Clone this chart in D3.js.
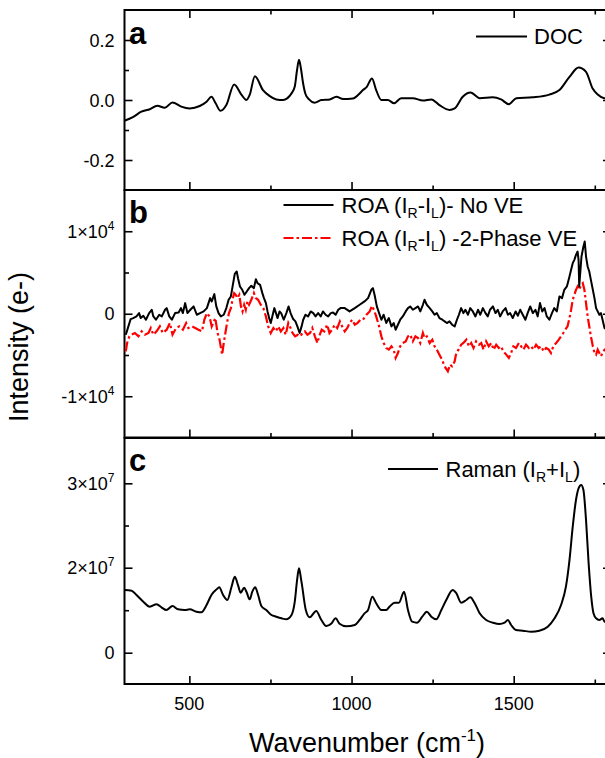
<!DOCTYPE html>
<html><head><meta charset="utf-8">
<script src="https://cdn.jsdelivr.net/npm/d3@7"></script>
<style>
body{margin:0;background:#fff}
text{font-family:"Liberation Sans",Arial,sans-serif;fill:#000}
</style>
</head><body>
<svg id="chart" width="605" height="758"></svg>
<script>
// ---------- DATA ----------
const xTicks = [500, 1000, 1500];
const xMinor = [750, 1250, 1750];

const aTicks = [-0.2, 0, 0.2];
const aLabels = [["-0.2",""],["0.0",""],["0.2",""]];
const aMinor = [-0.1, 0.1];

const bTicks = [-1e4, 0, 1e4];
const bLabels = [["-1×10","4"],["0",""],["1×10","4"]];
const bMinor = [-5000, 5000];

const cTicks = [0, 2e7, 3e7];
const cLabels = [["0",""],["2×10","7"],["3×10","7"]];
const cMinor = [1e7, 2.5e7];

// panel a: DOC
const docW = [300,326,352,378,401,424,448,475,501,532,553,568,581,596,614,638,661,676,686,702,727,748,768,789,815,825,832,838,844,850,858,869,886,907,933,953,974,1004,1025,1035,1047,1063,1076,1092,1112,1131,1153,1189,1220,1246,1271,1302,1318,1343,1367,1395,1435,1461,1485,1508,1559,1610,1641,1672,1700,1723,1743,1759,1779,1800];
const docV = [-0.069,-0.057,-0.039,-0.031,-0.019,-0.026,-0.008,-0.022,-0.028,-0.020,-0.006,0.011,-0.011,-0.036,-0.017,0.052,0.017,0.0,0.017,0.079,0.033,0.013,0.002,0.0,0.022,0.045,0.100,0.134,0.105,0.060,0.020,0.002,-0.009,0.0,0.002,0.011,0.003,0.005,0.022,0.033,0.044,0.072,0.033,0.0,0.0,-0.011,0.006,0.006,-0.002,0.002,-0.017,-0.033,-0.028,0.011,0.025,0.006,0.009,0.002,-0.014,0.006,0.009,0.018,0.033,0.077,0.108,0.094,0.039,0.018,0.006,0.005];

// panel b: ROA, no VE
const roaW = [304,312,319,327,337,345,350,358,366,376,384,389,397,407,415,425,430,438,446,456,467,474,480,487,494,503,513,523,533,544,554,564,569,577,583,590,597,606,614,621,628,635,640,646,650,656,663,670,677,684,691,699,705,710,718,725,730,736,741,746,751,757,762,767,772,778,783,791,799,806,812,820,827,833,840,846,851,858,866,874,882,889,897,905,912,920,928,936,943,951,959,966,979,994,1010,1025,1040,1051,1061,1066,1071,1078,1085,1092,1099,1107,1115,1123,1130,1136,1143,1150,1158,1167,1174,1181,1189,1197,1205,1212,1220,1225,1232,1241,1249,1256,1263,1271,1280,1287,1294,1302,1310,1318,1325,1331,1338,1345,1351,1359,1366,1374,1382,1390,1397,1405,1413,1420,1427,1436,1444,1451,1458,1466,1475,1482,1489,1497,1506,1513,1520,1528,1536,1543,1551,1559,1567,1574,1581,1588,1595,1602,1610,1618,1625,1633,1641,1649,1656,1664,1672,1677,1682,1687,1692,1697,1700,1702,1709,1715,1719,1723,1728,1733,1738,1744,1749,1754,1759,1764,1769,1774,1780,1790];
const roaNoVE = [-2540,-1530,-645,-524,-323,80,-524,-242,-726,80,484,-323,-726,-121,-323,484,685,-323,-726,80,160,685,80,1290,80,484,887,-121,80,282,685,1895,1492,2380,887,80,-323,-121,685,1694,2097,3710,4839,5121,4315,3307,2903,2298,2702,3105,3387,3105,4194,3710,3508,2500,1895,1290,282,-524,-1129,-121,685,80,-524,282,80,-726,80,887,80,-645,-927,-1532,-2339,-1532,-726,-121,-323,282,80,-323,80,-323,282,-121,-323,80,160,-121,484,685,685,282,685,1089,1492,1895,2903,3105,2298,887,80,-726,-121,-1129,-524,-1532,-1129,-1935,-1331,-726,-323,282,685,887,484,685,887,282,1089,1694,1089,685,282,-121,80,-524,-726,-927,-1129,-927,-1331,-1532,-726,-121,685,80,484,-121,685,282,-323,484,-121,685,80,-323,484,887,80,484,-323,282,685,-121,80,-524,282,-242,484,-121,-726,80,887,80,484,-323,1290,282,685,-323,-726,80,685,282,2097,1895,2903,3307,4516,5323,6129,6532,7137,7540,6532,3307,6935,8145,8750,6935,5726,5121,4113,2903,1895,685,282,-121,80,-726,-1734,-2000];

// panel b: ROA, 2-phase VE
const roa2W = [304,308,315,322,332,343,353,363,374,381,389,399,409,418,430,440,448,459,469,480,490,497,508,518,528,539,546,554,562,569,580,587,593,601,606,611,617,622,628,633,638,643,648,654,659,664,669,674,679,684,691,699,705,712,720,728,736,743,751,759,767,774,782,790,797,805,812,818,826,834,842,849,856,864,872,879,887,895,900,908,916,925,932,940,948,956,964,971,979,987,994,1002,1010,1018,1028,1035,1046,1056,1063,1069,1076,1085,1092,1099,1107,1115,1123,1130,1136,1143,1150,1158,1167,1174,1181,1189,1197,1205,1212,1220,1225,1232,1241,1249,1256,1263,1271,1279,1285,1290,1297,1304,1310,1318,1323,1330,1338,1345,1354,1362,1369,1376,1384,1393,1400,1407,1415,1423,1431,1438,1446,1454,1461,1468,1477,1485,1492,1499,1507,1516,1523,1530,1538,1547,1554,1561,1569,1577,1585,1592,1600,1608,1615,1622,1631,1639,1646,1653,1659,1666,1672,1677,1682,1687,1692,1697,1702,1708,1713,1718,1723,1728,1733,1738,1744,1749,1754,1759,1764,1769,1774,1780,1790];
const roa2PhaseVE = [-4554,-3546,-2740,-2540,-2337,-2740,-2136,-2540,-2337,-1733,-2540,-2136,-1531,-2337,-1934,-1128,-2540,-1733,-1531,-1934,-1128,-1733,-1531,-1733,-1934,-2136,-725,80,-322,-1531,-524,-2337,-3143,-4957,-3546,-2337,-927,80,685,1692,2499,2297,1894,2297,886,282,1088,484,1491,1088,1692,2499,1894,1692,1088,685,-322,-1531,-2337,-1733,-2136,-1531,-2136,-1733,-2540,-1128,-1733,-2337,-2740,-2540,-2740,-2337,-2136,-2540,-2337,-1733,-2740,-3546,-2740,-1934,-2136,-1329,-2337,-1934,-1329,-1733,-927,-1531,-2136,-1733,-1128,-725,-1329,-1128,-725,-725,-121,282,967,484,-322,-1531,-2740,-3546,-4151,-4352,-3949,-4352,-5360,-4755,-3949,-3546,-3345,-2740,-2540,-3345,-2740,-2942,-3546,-2337,-2942,-2740,-3546,-3143,-3949,-4352,-4957,-5561,-6166,-6569,-6972,-6166,-6368,-5763,-4755,-4352,-3748,-3546,-3143,-3949,-3546,-4151,-3345,-3748,-3546,-4352,-3345,-3949,-3546,-4352,-3748,-4151,-3949,-4553,-4957,-5360,-4755,-3949,-4151,-3546,-3949,-4352,-3748,-4151,-3949,-4352,-3748,-4151,-3949,-4553,-4151,-4352,-4755,-3949,-3546,-3143,-2740,-2337,-1934,-1531,-524,484,1692,2297,2902,3305,2902,3507,3708,2902,1290,-322,-1531,-2740,-3949,-4755,-4957,-4352,-4755,-5158,-4755,-4352,-4200];

// panel c: Raman
const ramanW = [300,322,337,358,378,399,414,429,448,465,486,501,522,537,553,568,584,592,604,617,630,640,650,658,669,676,686,694,703,712,722,737,753,768,784,799,815,825,832,838,844,848,859,871,891,907,922,938,951,963,984,1010,1025,1040,1051,1064,1076,1092,1107,1117,1133,1146,1162,1174,1187,1202,1218,1232,1246,1261,1277,1292,1312,1323,1338,1354,1366,1379,1395,1415,1436,1456,1472,1482,1492,1507,1528,1554,1579,1605,1626,1646,1661,1672,1682,1692,1700,1708,1715,1723,1731,1739,1746,1754,1764,1774,1780,1800];
const ramanV = [1.475e7,1.46e7,1.358e7,1.2e7,1.082e7,1.14e7,1.068e7,1.005e7,1.099e7,1.02e7,1.005e7,1.02e7,0.965e7,0.95e7,1.122e7,1.358e7,1.49e7,1.54e7,1.358e7,1.24e7,1.553e7,1.788e7,1.59e7,1.41e7,1.53e7,1.435e7,1.256e7,1.435e7,1.54e7,1.358e7,1.1e7,1.005e7,0.887e7,0.847e7,0.81e7,0.786e7,0.887e7,1.2e7,1.7e7,1.99e7,1.75e7,1.553e7,1.005e7,0.833e7,0.98e7,0.77e7,0.628e7,0.69e7,0.81e7,0.68e7,0.62e7,0.652e7,0.77e7,0.927e7,1.005e7,1.318e7,1.162e7,1.005e7,1.005e7,1.082e7,1.176e7,1.176e7,1.435e7,1.005e7,0.73e7,0.706e7,0.847e7,0.965e7,0.847e7,0.786e7,1.005e7,1.24e7,1.475e7,1.4e7,1.176e7,1.24e7,1.303e7,1.176e7,0.927e7,0.77e7,0.706e7,0.675e7,0.706e7,0.77e7,0.652e7,0.534e7,0.518e7,0.494e7,0.518e7,0.612e7,0.81e7,1.122e7,1.553e7,2.091e7,2.486e7,2.802e7,2.94e7,2.98e7,2.92e7,2.565e7,2.052e7,1.318e7,0.927e7,0.81e7,0.77e7,0.81e7,0.73e7,0.7e7];

// ---------- CHART ----------
const svg = d3.select("#chart");
const x = d3.scaleLinear().domain([300, 1800]).range([124.5, 611]);
const yA = d3.scaleLinear().domain([-0.3, 0.3]).range([190, 10]);
const yB = d3.scaleLinear().domain([-1.5e4, 1.5e4]).range([437.5, 190]);
const yC = d3.scaleLinear().domain([-0.736e7, 2e7, 3.537e7]).range([684, 567.7, 438]);

const panels = [
  {y: yA, top: 10, bottom: 190, ticks: aTicks, labels: aLabels, minor: aMinor, topTicks: true},
  {y: yB, top: 190, bottom: 437.5, ticks: bTicks, labels: bLabels, minor: bMinor, topTicks: false},
  {y: yC, top: 438, bottom: 684, ticks: cTicks, labels: cLabels, minor: cMinor, topTicks: false}
];
const L = x.range()[0], R = x.range()[1];

function styleAxis(g){
  g.select(".domain").remove();
  g.selectAll(".tick line").attr("stroke", "#000").attr("stroke-width", 1.6);
}

panels.forEach((p) => {
  svg.append("g").attr("transform", `translate(0,${p.bottom})`)
    .call(d3.axisBottom(x).tickValues(xTicks).tickSize(-8).tickFormat("")).call(styleAxis);
  svg.append("g").attr("transform", `translate(0,${p.bottom})`)
    .call(d3.axisBottom(x).tickValues(xMinor).tickSize(-4.5).tickFormat("")).call(styleAxis);
  if (p.topTicks) {
    svg.append("g").attr("transform", `translate(0,${p.top})`)
      .call(d3.axisTop(x).tickValues(xTicks).tickSize(-8).tickFormat("")).call(styleAxis);
    svg.append("g").attr("transform", `translate(0,${p.top})`)
      .call(d3.axisTop(x).tickValues(xMinor).tickSize(-4.5).tickFormat("")).call(styleAxis);
  }
  svg.append("g").attr("transform", `translate(${L},0)`)
    .call(d3.axisLeft(p.y).tickValues(p.ticks).tickSize(-8).tickFormat("")).call(styleAxis);
  svg.append("g").attr("transform", `translate(${L},0)`)
    .call(d3.axisLeft(p.y).tickValues(p.minor).tickSize(-4.5).tickFormat("")).call(styleAxis);
  svg.append("g").attr("transform", `translate(${R},0)`)
    .call(d3.axisRight(p.y).tickValues(p.ticks).tickSize(-8).tickFormat("")).call(styleAxis);
  svg.append("g").attr("transform", `translate(${R},0)`)
    .call(d3.axisRight(p.y).tickValues(p.minor).tickSize(-4.5).tickFormat("")).call(styleAxis);

  p.ticks.forEach((v, k) => {
    const t = svg.append("text").attr("x", L - 10).attr("y", p.y(v) + 6.5)
      .attr("text-anchor", "end").attr("font-size", 18);
    t.append("tspan").text(p.labels[k][0]);
    if (p.labels[k][1]) t.append("tspan").attr("dy", -8).attr("font-size", 12).text(p.labels[k][1]);
  });

  svg.append("rect").attr("x", L).attr("y", p.top).attr("width", R - L).attr("height", p.bottom - p.top)
    .attr("fill", "none").attr("stroke", "#000").attr("stroke-width", 2);
});

xTicks.forEach(v => {
  svg.append("text").attr("x", x(v)).attr("y", 710).attr("text-anchor", "middle")
    .attr("font-size", 18).text(v);
});

// series
const lineA = d3.line().x((d, i) => x(docW[i])).y(d => yA(d)).curve(d3.curveMonotoneX);
svg.append("path").attr("d", lineA(docV)).attr("fill", "none").attr("stroke", "#000").attr("stroke-width", 2);

const lineB1 = d3.line().x((d, i) => x(roaW[i])).y(d => yB(d));
const lineB2 = d3.line().x((d, i) => x(roa2W[i])).y(d => yB(d));
svg.append("path").attr("d", lineB2(roa2PhaseVE)).attr("fill", "none").attr("stroke", "#ff0000")
  .attr("stroke-width", 2.2).attr("stroke-dasharray", "10,3,2.5,3");
svg.append("path").attr("d", lineB1(roaNoVE)).attr("fill", "none").attr("stroke", "#000")
  .attr("stroke-width", 2).attr("stroke-linejoin", "round");

const lineC = d3.line().x((d, i) => x(ramanW[i])).y(d => yC(d)).curve(d3.curveMonotoneX);
svg.append("path").attr("d", lineC(ramanV)).attr("fill", "none").attr("stroke", "#000").attr("stroke-width", 2);

// panel letters
[["a", 44], ["b", 223], ["c", 471]].forEach(([s, yy]) => {
  svg.append("text").attr("x", 129).attr("y", yy).attr("font-size", 31).attr("font-weight", "bold").text(s);
});

// legends
function legendText(xx, yy, parts){
  const t = svg.append("text").attr("x", xx).attr("y", yy).attr("font-size", 22);
  parts.forEach(([s, type]) => {
    if (type === "sub") t.append("tspan").attr("dy", 5).attr("font-size", 14).text(s);
    else if (type === "up") t.append("tspan").attr("dy", -5).text(s);
    else t.append("tspan").text(s);
  });
}
svg.append("line").attr("x1", 476).attr("x2", 527).attr("y1", 36.5).attr("y2", 36.5).attr("stroke", "#000").attr("stroke-width", 2);
legendText(534, 44, [["DOC"]]);

svg.append("line").attr("x1", 283.5).attr("x2", 333.5).attr("y1", 205).attr("y2", 205).attr("stroke", "#000").attr("stroke-width", 2);
legendText(341.5, 213, [["ROA (I"],["R","sub"],["-I","up"],["L","sub"],[")- No VE","up"]]);
svg.append("line").attr("x1", 283.5).attr("x2", 333.5).attr("y1", 238).attr("y2", 238).attr("stroke", "#ff0000").attr("stroke-width", 2.2).attr("stroke-dasharray", "10,3,2.5,3");
legendText(341.5, 245.5, [["ROA (I"],["R","sub"],["-I","up"],["L","sub"],[") -2-Phase VE","up"]]);

svg.append("line").attr("x1", 388).attr("x2", 438).attr("y1", 469).attr("y2", 469).attr("stroke", "#000").attr("stroke-width", 2);
legendText(445.5, 476.5, [["Raman (I"],["R","sub"],["+I","up"],["L","sub"],[")","up"]]);

// axis titles
const xt = svg.append("text").attr("x", 367).attr("y", 752).attr("text-anchor", "middle").attr("font-size", 27);
xt.append("tspan").text("Wavenumber (cm");
xt.append("tspan").attr("dy", -11).attr("font-size", 17).text("-1");
xt.append("tspan").attr("dy", 11).text(")");

svg.append("text").attr("transform", "translate(28,347) rotate(-90)").attr("text-anchor", "middle")
  .attr("font-size", 27).text("Intensity (e-)");
</script>
</body></html>
